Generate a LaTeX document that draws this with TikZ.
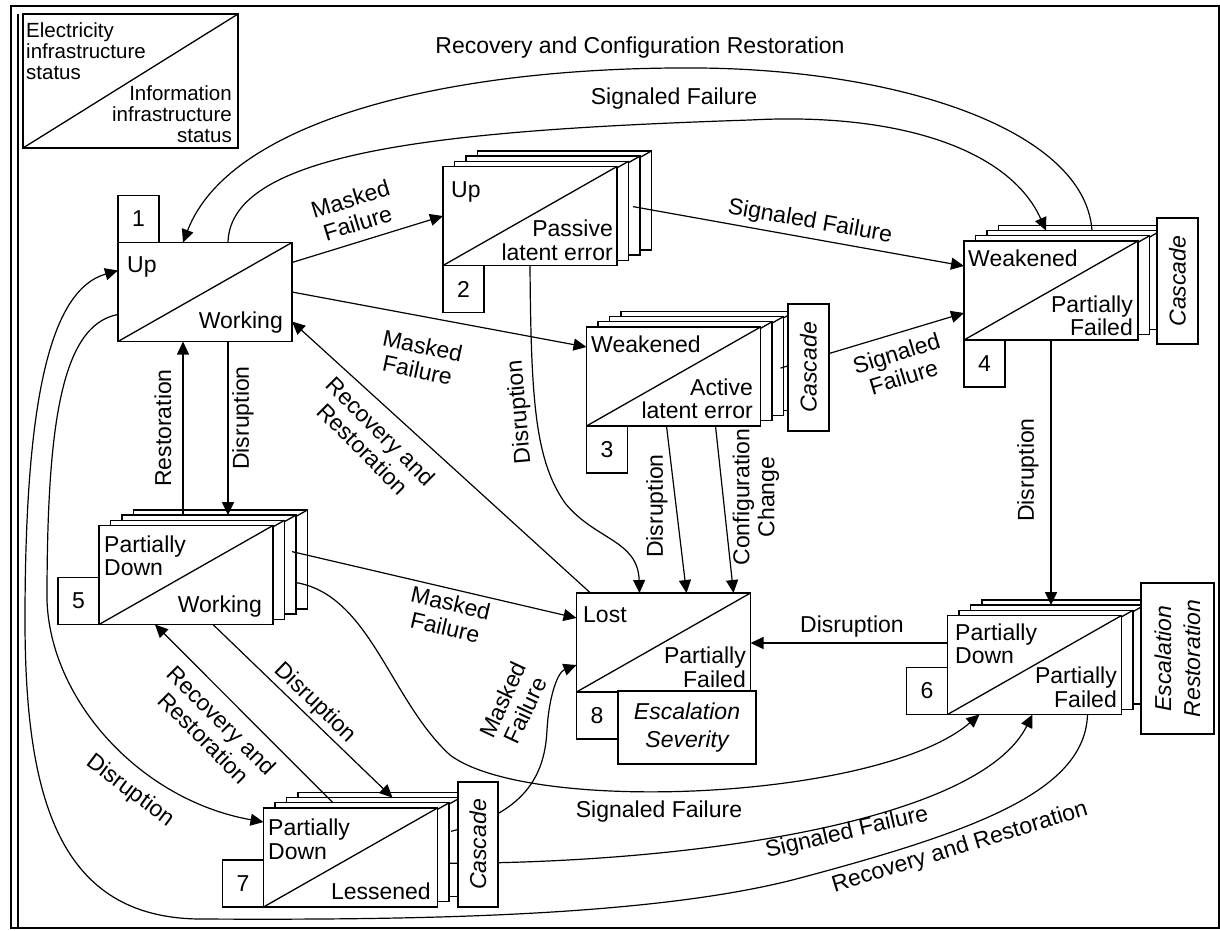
\documentclass[tikz,border=0pt]{standalone}
\usepackage{fontspec}
\setmainfont{Liberation Sans}
\usetikzlibrary{arrows.meta,calc}

% a state drawn as a stack of three sheets behind a front sheet
\newcommand\stackbox[3]{%
  \foreach \k in {3,2,1}{%
    \node[box] (#1-l\k) at ({#2+11.5*\k},{#3-5.2*\k}) {};
    \draw[thin line] (#1-l\k.south west) -- (#1-l\k.north east);
  }%
  \node[box] (#1) at (#2,#3) {};
  \draw[thin line] (#1.south west) -- (#1.north east);
}
\newcommand\singlebox[3]{%
  \node[box] (#1) at (#2,#3) {};
  \draw[thin line] (#1.south west) -- (#1.north east);
}

\begin{document}
\begin{tikzpicture}[x=1pt,y=-1pt,
  thin line/.style={line width=1.3pt},
  box/.style={draw, line width=1.3pt, fill=white, minimum width=174pt,
    minimum height=99pt, inner sep=0pt, outer sep=0pt},
  numbox/.style={draw, line width=1.3pt, fill=white, minimum width=41pt,
    minimum height=47pt, inner sep=0pt, outer sep=0pt,
    font=\fontsize{23}{26}\selectfont},
  sidebox/.style={draw, line width=1.3pt, fill=white, inner sep=0pt,
    outer sep=0pt, font=\fontsize{23}{29}\selectfont\itshape, align=center},
  txt/.style={font=\fontsize{23}{26}\selectfont, inner sep=0pt},
  lbl/.style={font=\fontsize{23}{25}\selectfont, inner sep=0pt, align=center},
  legtxt/.style={font=\fontsize{20.5}{21}\selectfont, inner sep=0pt},
  conn/.style={line width=1.2pt},
  arr/.style={line width=1.2pt, -{Triangle[length=13pt,width=12pt]}},
]
\useasboundingbox (0,0) rectangle (1220,930);

% outer frame
\draw[line width=2pt] (10.5,5.5) rectangle (1219,928);
\draw[line width=1.2pt] (18,14) -- (18,928);

% legend
\node[draw, line width=1.3pt, minimum width=215pt, minimum height=134pt,
  inner sep=0pt, outer sep=0pt, anchor=north west] (leg) at (23,14) {};
\draw[thin line] (leg.south west) -- (leg.north east);
\node[legtxt, anchor=base west] (lg1) at (26,37) {Electricity};
\node[legtxt, anchor=base west] (lg2) at (26,58) {infrastructure};
\node[legtxt, anchor=base west] (lg3) at (26,79) {status};
\node[legtxt, anchor=base east] (lg4) at (232,100) {Information};
\node[legtxt, anchor=base east] (lg5) at (232,121) {infrastructure};
\node[legtxt, anchor=base east] (lg6) at (232,142) {status};

% states
\singlebox{b1}{205}{292}
\stackbox{b2}{530}{216}
\stackbox{b3}{673.5}{376.5}
\stackbox{b4}{1051}{290.5}
\stackbox{b5}{186}{575}
\stackbox{b6}{1034.5}{665}
\stackbox{b7}{350.5}{857.5}
\singlebox{b8}{663.5}{642.5}

% state numbers
\node[numbox, anchor=south west] (n1) at (b1.north west) {1};
\node[numbox, anchor=north west] (n2) at (b2.south west) {2};
\node[numbox, anchor=north west] (n3) at (b3.south west) {3};
\node[numbox, anchor=north west] (n4) at (b4.south west) {4};
\node[numbox, anchor=south east] (n5) at (b5.south west) {5};
\node[numbox, anchor=south east] (n6) at (b6.south west) {6};
\node[numbox, anchor=south east] (n7) at (b7.south west) {7};
\node[numbox, anchor=north west] (n8) at (b8.south west) {8};

% state texts
\node[txt, anchor=base west] (b1a) at (127,272) {Up};
\node[txt, anchor=base east] (b1b) at (283,328) {Working};
\node[txt, anchor=base west] (b2a) at (451,197) {Up};
\node[txt, anchor=base east] (b2b) at (613,236) {Passive};
\node[txt, anchor=base east] (b2c) at (613,260) {latent error};
\node[txt, anchor=base west] (b3a) at (591,352) {Weakened};
\node[txt, anchor=base east] (b3b) at (753,395) {Active};
\node[txt, anchor=base east] (b3c) at (753,418) {latent error};
\node[txt, anchor=base west] (b4a) at (968,266) {Weakened};
\node[txt, anchor=base east] (b4b) at (1133,312) {Partially};
\node[txt, anchor=base east] (b4c) at (1133,335) {Failed};
\node[txt, anchor=base west] (b5a) at (104,552) {Partially};
\node[txt, anchor=base west] (b5b) at (104,575) {Down};
\node[txt, anchor=base east] (b5c) at (262,612) {Working};
\node[txt, anchor=base west] (b6a) at (955,640) {Partially};
\node[txt, anchor=base west] (b6b) at (955,663) {Down};
\node[txt, anchor=base east] (b6c) at (1117,683) {Partially};
\node[txt, anchor=base east] (b6d) at (1117,707) {Failed};
\node[txt, anchor=base west] (b7a) at (268,835) {Partially};
\node[txt, anchor=base west] (b7b) at (268,859) {Down};
\node[txt, anchor=base east] (b7c) at (431,899) {Lessened};
\node[txt, anchor=base west] (b8a) at (583,622) {Lost};
\node[txt, anchor=base east] (b8b) at (746,663) {Partially};
\node[txt, anchor=base east] (b8c) at (746,687) {Failed};

% attachment points
\coordinate (s12) at ($(b1.north east)+(0,20)$);
\coordinate (s13) at (b1.east);
\coordinate (e13) at ($(b3.north west)+(0,20)$);
\coordinate (s24) at ($(b2-l2.east)+(-7,1)$);
\coordinate (e24) at ($(b4.north west)+(0,25)$);
\coordinate (s34) at ($(b3-l2.east)+(-3,2)$);
\coordinate (e34) at ($(b4.south west)+(0,-27)$);
\coordinate (s68) at ($(b6.west)+(0,-22)$);
\coordinate (s38d) at ($(b3.south)+(-7,0)$);
\coordinate (e38d) at ($(b8.north)+(23,0)$);
\coordinate (s38c) at ($(b3.south)+(42,0)$);
\coordinate (e38c) at ($(b8.north)+(70,0)$);
\coordinate (s81) at ($(b8.north west)+(14,0)$);
\coordinate (e81) at ($(b1.south east)+(0,-20)$);
\coordinate (r51) at ($(b1.south)+(-22,0)$);
\coordinate (d15) at ($(b1.south)+(23,0)$);
\coordinate (s58) at ($(b5-l2.east)+(-4,-13)$);
\coordinate (e58) at ($(b8.north west)+(0,25)$);
\coordinate (s56) at ($(b5-l2.east)+(0,18)$);
\coordinate (e56) at ($(b6.south west)+(32,0)$);
\coordinate (s76) at ($(b7-l1.east)+(0,11)$);
\coordinate (e76) at ($(b6.south west)+(85,0)$);
\coordinate (s61) at ($(b6.south west)+(140,0)$);
\coordinate (e61) at ($(b1.north west)+(0,28)$);
\coordinate (s17) at ($(b1.south west)+(0,-27)$);
\coordinate (e17) at ($(b7.north west)+(0,14)$);
\coordinate (s75) at ($(b7-l1.north)+(-29,0)$);
\coordinate (e75) at ($(b5.south)+(-31,0)$);
\coordinate (s57) at ($(b5.south)+(27,0)$);
\coordinate (e57) at ($(b7-l2.north)+(19,0)$);
\coordinate (s78) at ($(b7-l1.east)+(2,-21)$);
\coordinate (e78) at ($(b8.north west)+(0,72)$);
\coordinate (e28) at ($(b8.north)+(-24,0)$);
\coordinate (s41) at ($(b4-l2.north)+(18,0)$);
\coordinate (e41) at ($(b1.north)+(-22,0)$);
\coordinate (s14) at ($(b1.north)+(23,0)$);
\coordinate (e14) at ($(b4-l2.north)+(-28,0)$);

% transitions
\draw[arr] (s12) -- (b2.west);
\draw[arr] (s13) -- (e13);
\draw[arr] (s24) -- (e24);
\draw[arr] (s34) -- (e34);
\draw[arr] (b4.south) -- (b4.south |- b6-l2.north);
\draw[arr] (s68) -- (s68 -| b8.east);
\draw[arr] (s38d) -- (e38d);
\draw[arr] (s38c) -- (e38c);
\draw[arr] (s81) -- (e81);
\draw[arr] (r51 |- b5-l2.north) -- (r51);
\draw[arr] (d15) -- (d15 |- b5-l2.north);
\draw[arr] (s58) -- (e58);
\draw[arr] (s75) -- (e75);
\draw[arr] (s57) -- (e57);
\draw[arr] (s41) .. controls (1085,130) and (900,70) .. (700,68)
  .. controls (450,66) and (230,120) .. (e41);
\draw[arr] (s14) .. controls (230,150) and (450,130) .. (750,120)
  .. controls (900,112) and (1010,150) .. (e14);
\draw[arr] (b2.south) .. controls (531,400) and (535,460) .. (565,503)
  .. controls (595,540) and (638,540) .. (e28);
\draw[arr] (s56) .. controls (370,595) and (390,700) .. (450,755)
  .. controls (530,815) and (880,800) .. (e56);
\draw[arr] (s76) .. controls (700,863) and (980,820) .. (e76);
\draw[arr] (s78) .. controls (530,812) and (545,770) .. (547,730)
  .. controls (549,695) and (558,672) .. (e78);
\draw[arr] (s61) .. controls (1085,790) and (980,830) .. (800,878)
  .. controls (650,918) and (400,920) .. (200,919)
  .. controls (60,918) and (25,800) .. (25,620)
  .. controls (25,400) and (50,290) .. (e61);
\draw[arr] (s17) .. controls (60,325) and (47,430) .. (47,600)
  .. controls (50,700) and (140,800) .. (e17);

% side notes of the states
\node[sidebox, rotate=90, minimum width=127pt, minimum height=41pt] (c3) at (808.5,367.5) {Cascade};
\node[sidebox, rotate=90, minimum width=126pt, minimum height=41pt] (c4) at (1177.5,281) {Cascade};
\node[sidebox, rotate=90, minimum width=151pt, minimum height=73pt] (c6) at (1177.5,658.5) {Escalation\\Restoration};
\node[sidebox, rotate=90, minimum width=125pt, minimum height=40pt] (c7) at (478,844.5) {Cascade};
\node[sidebox, minimum width=138pt, minimum height=73pt, font=\fontsize{23}{28}\selectfont\itshape] (e8) at (687,727.5) {Escalation\\Severity};

% transition labels
\node[lbl] (ltop) at (640,48) {Recovery and Configuration Restoration};
\node[lbl] (lsig) at (674,99) {Signaled Failure};
\node[lbl, rotate=17] (l12) at (354,211) {Masked\\Failure};
\node[lbl, rotate=-12] (l13) at (420,358) {Masked\\Failure};
\node[lbl, rotate=-10] (l24) at (810,222) {Signaled Failure};
\node[lbl, rotate=17] (l34) at (900,365) {Signaled\\Failure};
\node[lbl, rotate=90] (l46) at (1028,470) {Disruption};
\node[lbl] (l68) at (852,627) {Disruption};
\node[lbl, rotate=95] (l28) at (520,412) {Disruption};
\node[lbl, rotate=90] (l38d) at (657,506) {Disruption};
\node[lbl, rotate=90] (l38c) at (756,497) {Configuration\\Change};
\node[lbl, rotate=-45] (l81) at (372,440) {Recovery and\\Restoration};
\node[lbl, rotate=90] (l51) at (163,428) {Restoration};
\node[lbl, rotate=90] (l15) at (243,418) {Disruption};
\node[lbl, rotate=-13] (l58) at (448,615) {Masked\\Failure};
\node[lbl] (l56) at (659,812) {Signaled Failure};
\node[lbl, rotate=13] (l76) at (847,833) {Signaled Failure};
\node[lbl, rotate=17] (l61) at (960,848) {Recovery and Restoration};
\node[lbl, rotate=-45] (l75) at (213,729) {Recovery and\\Restoration};
\node[lbl, rotate=-44] (l57) at (315,703) {Disruption};
\node[lbl, rotate=65] (l78) at (514,705) {Masked\\Failure};
\node[lbl, rotate=-37] (l17) at (130,791) {Disruption};
\end{tikzpicture}
\end{document}
